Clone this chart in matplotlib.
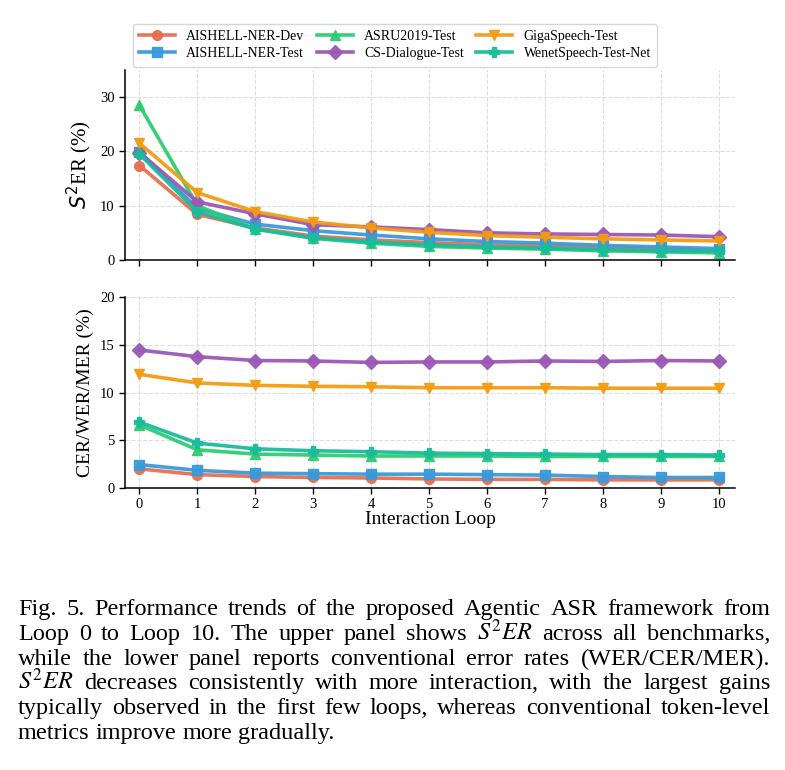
import numpy as np
import matplotlib
matplotlib.use('Agg')
from matplotlib import pyplot as plt

# Values

loops = list(range(11))
names = ['AISHELL-NER-Dev', 'AISHELL-NER-Test', 'ASRU2019-Test',
         'CS-Dialogue-Test', 'GigaSpeech-Test', 'WenetSpeech-Test-Net']
colors = ['#E76F51', '#3A9AD9', '#2ECC71', '#9B59B6', '#F39C12', '#1ABC9C']
markers = ['o', 's', '^', 'D', 'v', 'P']

# S^2ER (%)
s2er_dev = [17.4, 8.4, 5.9, 4.4, 3.7, 3.2, 2.8, 2.6, 2.3, 2.0, 1.8]
s2er_test = [19.9, 9.5, 6.6, 5.4, 4.6, 3.9, 3.4, 3.1, 2.7, 2.4, 2.1]
s2er_asru = [28.5, 10.0, 5.7, 4.0, 3.1, 2.5, 2.2, 2.0, 1.7, 1.5, 1.3]
s2er_cs = [19.8, 10.7, 8.5, 6.5, 6.1, 5.6, 5.0, 4.8, 4.7, 4.6, 4.3]
s2er_giga = [21.5, 12.4, 8.9, 7.0, 5.9, 5.1, 4.5, 4.2, 3.9, 3.7, 3.5]
s2er_wenet = [19.5, 8.9, 5.7, 4.1, 3.3, 2.8, 2.4, 2.2, 1.9, 1.7, 1.6]

# CER/WER/MER (%)
er_dev = [2.0, 1.4, 1.2, 1.1, 1.05, 0.95, 0.9, 0.9, 0.85, 0.85, 0.85]
er_test = [2.45, 1.85, 1.55, 1.5, 1.45, 1.45, 1.4, 1.35, 1.2, 1.1, 1.1]
er_asru = [6.6, 4.0, 3.55, 3.45, 3.35, 3.35, 3.35, 3.3, 3.3, 3.3, 3.3]
er_cs = [14.45, 13.75, 13.35, 13.3, 13.15, 13.2, 13.2, 13.3, 13.25, 13.35, 13.3]
er_giga = [11.9, 11.0, 10.75, 10.65, 10.6, 10.5, 10.5, 10.5, 10.45, 10.45, 10.45]
er_wenet = [6.9, 4.7, 4.1, 3.9, 3.8, 3.65, 3.6, 3.55, 3.5, 3.5, 3.45]

s2er = [s2er_dev, s2er_test, s2er_asru, s2er_cs, s2er_giga, s2er_wenet]
err = [er_dev, er_test, er_asru, er_cs, er_giga, er_wenet]

caption = [
    "Fig. 5.  Performance trends of the proposed Agentic ASR framework from",
    "Loop 0 to Loop 10. The upper panel shows $S^2ER$ across all benchmarks,",
    "while the lower panel reports conventional error rates (WER/CER/MER).",
    "$S^2ER$ decreases consistently with more interaction, with the largest gains",
    "typically observed in the first few loops, whereas conventional token-level",
    "metrics improve more gradually.",
]

plt.rcParams['font.family'] = ['Liberation Serif', 'DejaVu Serif']
plt.rcParams['axes.linewidth'] = 1.1

W, H = 785, 770
fig = plt.figure(figsize=(W / 100, H / 100), dpi=100)
ax1 = fig.add_axes([125 / W, 1 - 260 / H, 610 / W, 190 / H])
ax2 = fig.add_axes([125 / W, 1 - 488 / H, 610 / W, 191 / H])

for ax, data in [(ax1, s2er), (ax2, err)]:
    for vals, name, c, m in zip(data, names, colors, markers):
        ax.plot(loops, vals, color=c, marker=m, markersize=7, linewidth=2.6,
                label=name, alpha=0.95)
    ax.set_xlim(-0.25, 10.28)
    ax.set_xticks(loops)
    ax.grid(True, linestyle='--', color='#dddddd', linewidth=0.8)
    ax.set_axisbelow(True)
    ax.spines['top'].set_visible(False)
    ax.spines['right'].set_visible(False)
    ax.tick_params(labelsize=10.5, length=4, width=1)

ax1.set_ylim(0, 35)
ax1.set_yticks([0, 10, 20, 30])
ax1.set_xticklabels([])
ax1.set_ylabel('$S^2$ER (%)', fontsize=15, math_fontfamily='dejavusans')

ax2.set_ylim(0, 20)
ax2.set_yticks([0, 5, 10, 15, 20])
ax2.set_ylabel('CER/WER/MER (%)', fontsize=14)
ax2.set_xlabel('Interaction Loop', fontsize=14, labelpad=0)

h, l = ax1.get_legend_handles_labels()
fig.legend(h, l, loc='upper center', bbox_to_anchor=(0.503, 1 - 17 / H), ncol=3,
           fontsize=10, frameon=True, edgecolor='#cccccc', handlelength=2.6,
           columnspacing=0.9, borderpad=0.45, labelspacing=0.3)

# caption, justified by hand word by word
fig.canvas.draw()
r = fig.canvas.get_renderer()
x0, x1 = 18, 770
for i, line in enumerate(caption):
    y = 1 - (615 + i * 24.8) / H
    words = line.replace('  ', ' ').split(' ')
    ts = [fig.text(0, y, w, fontsize=17.5, family='Liberation Serif',
                   math_fontfamily='stix', va='baseline') for w in words]
    widths = [t.get_window_extent(r).width for t in ts]
    if i < len(caption) - 1:
        gap = (x1 - x0 - sum(widths)) / (len(words) - 1)
    else:
        gap = 6
    x = x0
    for t, w in zip(ts, widths):
        t.set_x(x / W)
        x += w + gap

fig.savefig('out.png', dpi=100)
